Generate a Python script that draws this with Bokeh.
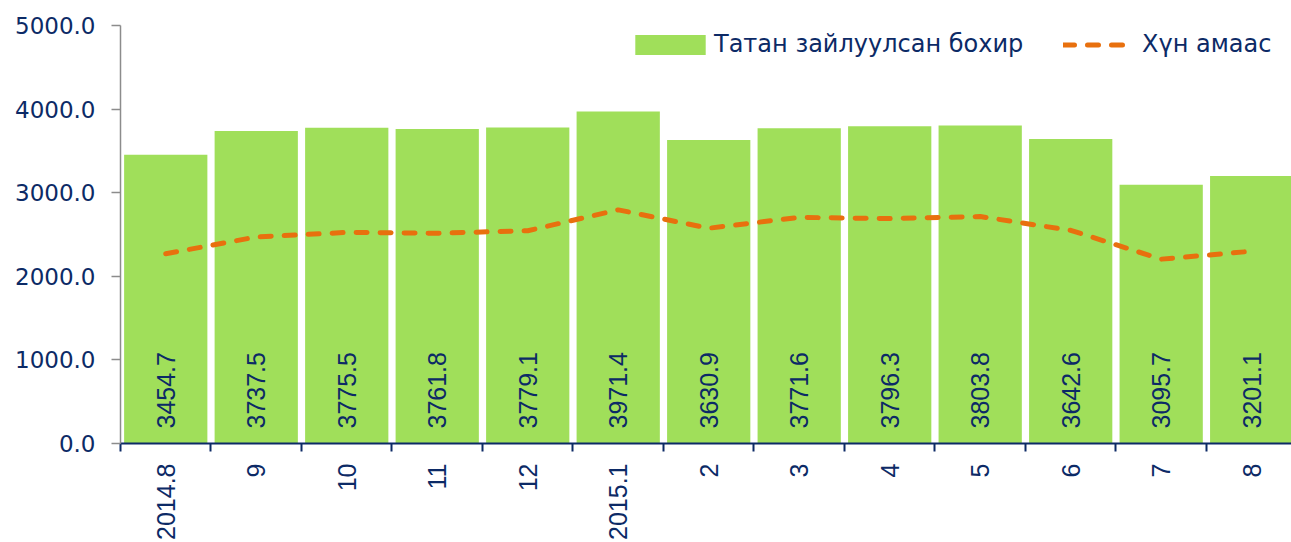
import math
from bokeh.plotting import figure
from bokeh.models import (Range1d, FixedTicker, NumeralTickFormatter, ColumnDataSource,
                          Legend, LegendItem)
from bokeh.core.properties import value
from bokeh.embed import file_html
from bokeh.resources import INLINE

categories = ["2014.8", "9", "10", "11", "12", "2015.1", "2", "3", "4", "5", "6", "7", "8"]
removed = [3454.7, 3737.5, 3775.5, 3761.8, 3779.1, 3971.4, 3630.9, 3771.6, 3796.3, 3803.8, 3642.6, 3095.7, 3201.1]
from_people = [2270, 2470, 2525, 2515, 2545, 2795, 2575, 2705, 2690, 2715, 2550, 2205, 2300]
y_ticks = [0, 1000, 2000, 3000, 4000, 5000]

NAVY = "#0c2a66"
GREEN = "#a0df5a"
ORANGE = "#e8700e"

xs = [i + 0.5 for i in range(len(categories))]
src = ColumnDataSource(dict(x=xs, bar=removed, line=from_people,
                            lbl=[f"{v:.1f}" for v in removed]))

p = figure(width=1291, height=542, output_backend="svg", toolbar_location=None,
           x_range=Range1d(0, 12.94), y_range=Range1d(0, 5000),
           min_border_left=120, min_border_right=0, min_border_top=25,
           min_border_bottom=99)
p.outline_line_color = None
p.grid.grid_line_color = None
p.background_fill_color = "white"

bars = p.vbar(x="x", top="bar", width=0.92, bottom=0, source=src,
              fill_color=GREEN, line_color=None)
ln = p.line(x="x", y="line", source=src, line_color=ORANGE, line_width=5,
            line_dash="11 13", line_cap="round")

p.text(x="x", y=0, text="lbl", source=src, angle=math.pi / 2, y_offset=-15,
       text_align="left", text_baseline="middle", text_color=NAVY,
       text_font=value("Liberation Sans"), text_font_size="25px")

# x axis
xa = p.xaxis[0]
xa.ticker = FixedTicker(ticks=xs, minor_ticks=list(range(len(categories) + 1)))
xa.major_label_overrides = {x: c for x, c in zip(xs, categories)}
xa.major_label_orientation = math.pi / 2
xa.major_label_text_font = "Liberation Sans"
xa.major_label_text_font_size = "25px"
xa.major_label_text_color = NAVY
xa.major_label_standoff = 12
xa.major_tick_line_color = None
xa.minor_tick_line_color = NAVY
xa.minor_tick_line_width = 2
xa.minor_tick_out = 8
xa.minor_tick_in = 0
xa.axis_line_color = NAVY
xa.axis_line_width = 2

# y axis
ya = p.yaxis[0]
ya.ticker = FixedTicker(ticks=y_ticks, minor_ticks=[])
ya.formatter = NumeralTickFormatter(format="0.0")
ya.major_label_text_font = "DejaVu Sans"
ya.major_label_text_font_size = "23px"
ya.major_label_text_color = NAVY
ya.major_label_standoff = 16
ya.major_tick_line_color = "#8c8c8c"
ya.major_tick_line_width = 1.5
ya.major_tick_out = 9
ya.major_tick_in = 0
ya.axis_line_color = "#8c8c8c"
ya.axis_line_width = 1.5

common = dict(orientation="horizontal", padding=0, margin=0,
              label_text_font="DejaVu Sans", label_text_font_size="24px",
              label_text_color=NAVY, background_fill_alpha=0,
              border_line_color=None)
leg1 = Legend(items=[LegendItem(label="Татан зайлуулсан бохир", renderers=[bars])],
              location=(506, 385), glyph_width=88, glyph_height=25,
              label_standoff=0, **common)
leg2 = Legend(items=[LegendItem(label="Хүн амаас", renderers=[ln])],
              location=(943, 385), glyph_width=67, glyph_height=25,
              label_standoff=12, **common)
p.add_layout(leg1)
p.add_layout(leg2)

open("out.html", "w").write(file_html(p, INLINE))
